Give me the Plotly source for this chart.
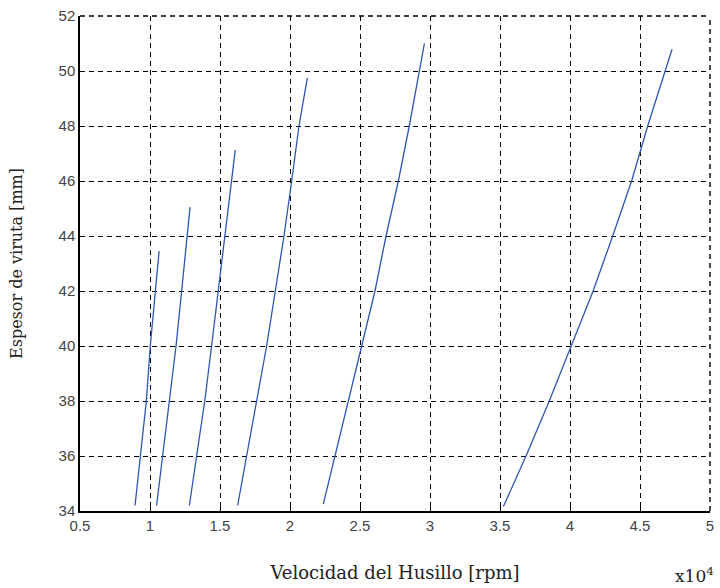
import plotly.graph_objects as go

# Spindle speed (x10^4 rpm) vs chip thickness (mm), six curves
x1 = [0.893, 0.932, 0.974, 1.002, 1.036, 1.065]
y1 = [34.2, 36, 38, 40, 42, 43.45]

x2 = [1.047, 1.09, 1.138, 1.186, 1.226, 1.262, 1.286]
y2 = [34.2, 36, 38, 40, 42, 44, 45.05]

x3 = [1.281, 1.333, 1.391, 1.44, 1.488, 1.533, 1.583, 1.609]
y3 = [34.2, 36, 38, 40, 42, 44, 46, 47.13]

x4 = [1.626, 1.69, 1.765, 1.833, 1.895, 1.957, 2.012, 2.064, 2.124]
y4 = [34.2, 36, 38, 40, 42, 44, 46, 48, 49.75]

x5 = [2.238, 2.321, 2.416, 2.515, 2.607, 2.686, 2.774, 2.852, 2.924, 2.96]
y5 = [34.25, 36, 38, 40, 42, 44, 46, 48, 50, 51.0]

x6 = [3.524, 3.686, 3.852, 4.007, 4.165, 4.305, 4.44, 4.555, 4.683, 4.729]
y6 = [34.16, 36, 38, 40, 42, 44, 46, 48, 50, 50.79]

x_ticks = [0.5, 1, 1.5, 2, 2.5, 3, 3.5, 4, 4.5, 5]
x_tick_labels = ["0.5", "1", "1.5", "2", "2.5", "3", "3.5", "4", "4.5", "5"]
y_ticks = [34, 36, 38, 40, 42, 44, 46, 48, 50, 52]

series = [(x1, y1), (x2, y2), (x3, y3), (x4, y4), (x5, y5), (x6, y6)]

fig = go.Figure()
for xs, ys in series:
    fig.add_trace(go.Scatter(x=xs, y=ys, mode="lines",
                             line=dict(color="#2f55b4", width=1.3),
                             showlegend=False, hoverinfo="skip"))

tickfont = dict(family="Liberation Sans, Arial, sans-serif", size=15, color="#444444")
dash = "5px,4px"

fig.update_xaxes(range=[0.5, 5], tickvals=x_ticks, ticktext=x_tick_labels,
                 showgrid=True, gridcolor="black", gridwidth=1.4, griddash=dash,
                 showline=True, linecolor="black", linewidth=1.5,
                 ticks="inside", ticklen=4, tickcolor="black",
                 tickfont=tickfont, zeroline=False, automargin=False,
                 title=dict(text="Velocidad del Husillo [rpm]",
                            font=dict(family="DejaVu Serif, serif", size=18, color="#222222"),
                            standoff=34))
fig.update_yaxes(range=[34, 52], tickvals=y_ticks,
                 showgrid=True, gridcolor="black", gridwidth=1.4, griddash=dash,
                 showline=True, linecolor="black", linewidth=1.5,
                 ticks="inside", ticklen=4, tickcolor="black",
                 tickfont=tickfont, zeroline=False, automargin=False,
                 title=dict(text="Espesor de viruta [mm]",
                            font=dict(family="DejaVu Serif, serif", size=16, color="#222222"),
                            standoff=32))

# dashed top and right frame edges (grid lines at the range limits)
fig.add_shape(type="line", xref="paper", yref="paper", x0=0, x1=1, y0=1, y1=1,
              line=dict(color="black", width=1.4, dash=dash))
fig.add_shape(type="line", xref="paper", yref="paper", x0=1, x1=1, y0=0, y1=1,
              line=dict(color="black", width=1.4, dash=dash))

fig.add_annotation(text="x10<sup>4</sup>", xref="paper", yref="paper",
                   x=1.0095, y=-0.13, xanchor="right", yanchor="middle", showarrow=False,
                   font=dict(family="DejaVu Serif, serif", size=17, color="#222222"))

fig.update_layout(width=720, height=588, plot_bgcolor="white", paper_bgcolor="white",
                  margin=dict(l=80, r=10, t=16, b=77))

fig.write_html("out.html", config={"displayModeBar": False},
               post_script="document.body.style.margin='0';")
